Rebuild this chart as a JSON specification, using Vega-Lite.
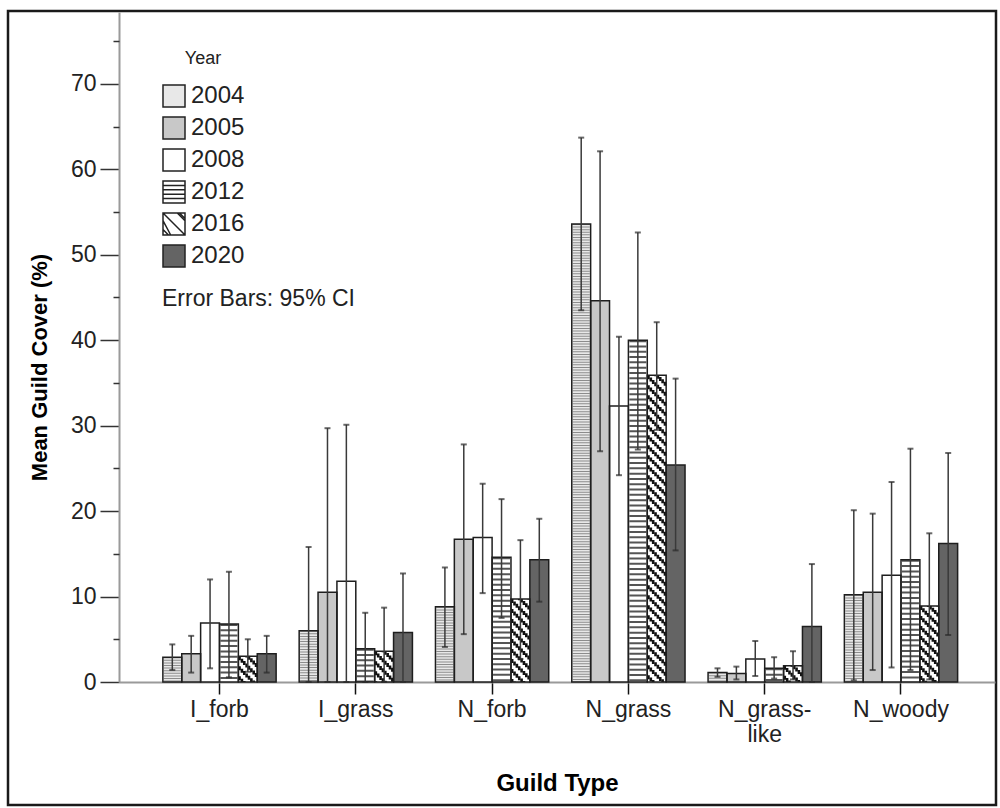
{
  "$schema": "https://vega.github.io/schema/vega-lite/v6.json",
  "width": 988,
  "height": 794,
  "autosize": "none",
  "padding": {"left": 8, "top": 11, "right": 4, "bottom": 3},
  "background": "white",
  "config": {
    "font": "Liberation Sans",
    "view": {"stroke": "#1a1a1a", "strokeWidth": 2.5},
    "axisX": {
      "title": "Guild Type",
      "titleFontSize": 24,
      "titleFontWeight": "bold",
      "titleColor": "#000000",
      "titlePadding": 25,
      "labelFontSize": 23,
      "labelColor": "#222222",
      "labelPadding": 4,
      "labelAngle": 0,
      "labelLineHeight": 25,
      "tickSize": 12,
      "tickColor": "#111111",
      "tickWidth": 1.5,
      "domainColor": "#9a9a9a",
      "domainWidth": 2,
      "grid": false
    }
  },
  "title": {
    "text": "Error Bars: 95% CI",
    "anchor": "start",
    "frame": "group",
    "orient": "top",
    "offset": 0,
    "dx": 154,
    "dy": 311,
    "baseline": "middle",
    "align": "left",
    "fontSize": 23,
    "fontWeight": "normal",
    "color": "#222222"
  },
  "data": {
    "values": [
      {"guild": "I_forb", "year": "2004", "mean": 2.9, "lo": 1.4, "hi": 4.4},
      {"guild": "I_forb", "year": "2005", "mean": 3.3, "lo": 1.1, "hi": 5.4},
      {"guild": "I_forb", "year": "2008", "mean": 6.9, "lo": 1.6, "hi": 12.0},
      {"guild": "I_forb", "year": "2012", "mean": 6.8, "lo": 0.55, "hi": 12.9},
      {"guild": "I_forb", "year": "2016", "mean": 3.0, "lo": 1.2, "hi": 5.0},
      {"guild": "I_forb", "year": "2020", "mean": 3.3, "lo": 1.1, "hi": 5.4},
      {"guild": "I_grass", "year": "2004", "mean": 6.0, "lo": 0.0, "hi": 15.8},
      {"guild": "I_grass", "year": "2005", "mean": 10.5, "lo": 0.0, "hi": 29.7},
      {"guild": "I_grass", "year": "2008", "mean": 11.8, "lo": 0.0, "hi": 30.1},
      {"guild": "I_grass", "year": "2012", "mean": 3.9, "lo": 0.0, "hi": 8.1},
      {"guild": "I_grass", "year": "2016", "mean": 3.6, "lo": 0.0, "hi": 8.7},
      {"guild": "I_grass", "year": "2020", "mean": 5.8, "lo": 0.0, "hi": 12.7},
      {"guild": "N_forb", "year": "2004", "mean": 8.8, "lo": 4.1, "hi": 13.4},
      {"guild": "N_forb", "year": "2005", "mean": 16.7, "lo": 5.6, "hi": 27.8},
      {"guild": "N_forb", "year": "2008", "mean": 16.9, "lo": 10.4, "hi": 23.2},
      {"guild": "N_forb", "year": "2012", "mean": 14.6, "lo": 7.5, "hi": 21.4},
      {"guild": "N_forb", "year": "2016", "mean": 9.7, "lo": 2.7, "hi": 16.6},
      {"guild": "N_forb", "year": "2020", "mean": 14.3, "lo": 9.4, "hi": 19.1},
      {"guild": "N_grass", "year": "2004", "mean": 53.6, "lo": 43.5, "hi": 63.7},
      {"guild": "N_grass", "year": "2005", "mean": 44.6, "lo": 27.0, "hi": 62.1},
      {"guild": "N_grass", "year": "2008", "mean": 32.3, "lo": 24.2, "hi": 40.4},
      {"guild": "N_grass", "year": "2012", "mean": 40.0, "lo": 27.2, "hi": 52.6},
      {"guild": "N_grass", "year": "2016", "mean": 35.9, "lo": 29.5, "hi": 42.1},
      {"guild": "N_grass", "year": "2020", "mean": 25.4, "lo": 15.4, "hi": 35.5},
      {"guild": "N_grass-like", "year": "2004", "mean": 1.1, "lo": 0.6, "hi": 1.6},
      {"guild": "N_grass-like", "year": "2005", "mean": 1.0, "lo": 0.3, "hi": 1.8},
      {"guild": "N_grass-like", "year": "2008", "mean": 2.7, "lo": 0.7, "hi": 4.8},
      {"guild": "N_grass-like", "year": "2012", "mean": 1.6, "lo": 0.4, "hi": 2.9},
      {"guild": "N_grass-like", "year": "2016", "mean": 1.9, "lo": 0.3, "hi": 3.6},
      {"guild": "N_grass-like", "year": "2020", "mean": 6.5, "lo": 0.0, "hi": 13.8},
      {"guild": "N_woody", "year": "2004", "mean": 10.2, "lo": 0.2, "hi": 20.1},
      {"guild": "N_woody", "year": "2005", "mean": 10.5, "lo": 1.4, "hi": 19.7},
      {"guild": "N_woody", "year": "2008", "mean": 12.5, "lo": 1.7, "hi": 23.4},
      {"guild": "N_woody", "year": "2012", "mean": 14.3, "lo": 1.4, "hi": 27.3},
      {"guild": "N_woody", "year": "2016", "mean": 8.9, "lo": 0.3, "hi": 17.4},
      {"guild": "N_woody", "year": "2020", "mean": 16.2, "lo": 5.5, "hi": 26.8}
    ]
  },
  "encoding": {
    "x": {
      "field": "guild",
      "type": "nominal",
      "sort": ["I_forb", "I_grass", "N_forb", "N_grass", "N_grass-like", "N_woody"],
      "scale": {
        "type": "band",
        "domain": ["I_forb", "I_grass", "N_forb", "N_grass", "N_grass-like", "N_woody"],
        "range": [111, 987],
        "paddingInner": 0.169,
        "paddingOuter": 0.298,
        "align": 0.54
      },
      "axis": {"title": "Guild Type", "offset": -123, "bandPosition": 0.5, "labelExpr": "datum.label == 'N_grass-like' ? ['N_grass-', 'like'] : datum.label"}
    },
    "y": {
      "field": "mean",
      "type": "quantitative",
      "scale": {"domain": [0, 78.4], "range": [671, 1], "nice": false, "zero": true},
      "axis": null
    }
  },
  "resolve": {"axis": {"y": "independent"}},
  "layer": [
    {
      "mark": {"type": "bar", "strokeWidth": 0},
      "encoding": {
        "xOffset": {"field": "year", "type": "nominal", "scale": {"domain": ["2004", "2005", "2008", "2012", "2016", "2020"], "paddingInner": 0, "paddingOuter": 0}},
        "fill": {
          "field": "year",
          "type": "nominal",
          "scale": {"domain": ["2004", "2005", "2008", "2012", "2016", "2020"], "range": ["#e8e8e8", "#c8c8c8", "#ffffff", "#ffffff", "#ffffff", "#646464"]},
          "legend": {
            "title": "Year",
            "orient": "none",
            "legendX": 154,
            "legendY": 39,
            "titleFontSize": 18,
            "titleFontWeight": "normal",
            "titleColor": "#222222",
            "titleAnchor": "middle",
            "titlePadding": 16,
            "labelFontSize": 24,
            "labelColor": "#222222",
            "labelOffset": 5,
            "symbolSize": 484,
            "rowPadding": 4,
            "symbolStrokeWidth": 1.5,
            "symbolStrokeColor": "#222222",
            "symbolOpacity": 1,
            "padding": 0,
            "encode": {"symbols": {"update": {"opacity": {"value": 1}, "stroke": {"value": "#222222"}, "strokeWidth": {"value": 1.5}}}}
          }
        },
        "y": {
          "field": "mean",
          "type": "quantitative",
          "scale": {"domain": [0, 78.4], "range": [671, 1], "nice": false, "zero": true},
          "axis": {
            "orient": "left",
            "title": "Mean Guild Cover (%)",
            "titleFontSize": 22,
            "titleFontWeight": "bold",
            "titleColor": "#000000",
            "titlePadding": 19,
            "titleY": 356,
            "values": [0, 10, 20, 30, 40, 50, 60, 70],
            "labelFontSize": 23,
            "labelColor": "#222222",
            "labelPadding": 4,
            "tickSize": 19,
            "tickColor": "#333333",
            "tickWidth": 1.5,
            "domainColor": "#9a9a9a",
            "domainWidth": 2,
            "offset": -111,
            "grid": false
          }
        }
      }
    },
    {
      "transform": [{"filter": "datum.year === '2004'"}],
      "mark": {"type": "rule", "color": "#8c8c8c", "strokeWidth": 17, "strokeDash": [1, 1.6]},
      "encoding": {"xOffset": {"field": "year", "type": "nominal"}, "y2": {"datum": 0}}
    },
    {
      "transform": [{"filter": "datum.year === '2012'"}],
      "mark": {"type": "rule", "color": "#555555", "strokeWidth": 17, "strokeDash": [2, 3.3]},
      "encoding": {"xOffset": {"field": "year", "type": "nominal"}, "y2": {"datum": 0}}
    },
    {
      "transform": [{"filter": "datum.year === '2016'"}],
      "mark": {"type": "rule", "color": "#111111", "strokeWidth": 2.6, "strokeDash": [4, 6]},
      "encoding": {"x": {"field": "guild", "type": "nominal", "sort": ["I_forb", "I_grass", "N_forb", "N_grass", "N_grass-like", "N_woody"], "bandPosition": 0.6771, "axis": {"title": "Guild Type", "offset": -123, "bandPosition": 0.5, "labelExpr": "datum.label == 'N_grass-like' ? ['N_grass-', 'like'] : datum.label"}}, "y2": {"datum": 0}}
    },
    {
      "transform": [{"filter": "datum.year === '2016'"}],
      "mark": {"type": "rule", "color": "#111111", "strokeWidth": 2.6, "strokeDash": [0, 2.36, 4, 3.64]},
      "encoding": {"x": {"field": "guild", "type": "nominal", "sort": ["I_forb", "I_grass", "N_forb", "N_grass", "N_grass-like", "N_woody"], "bandPosition": 0.6979, "axis": {"title": "Guild Type", "offset": -123, "bandPosition": 0.5, "labelExpr": "datum.label == 'N_grass-like' ? ['N_grass-', 'like'] : datum.label"}}, "y2": {"datum": 0}}
    },
    {
      "transform": [{"filter": "datum.year === '2016'"}],
      "mark": {"type": "rule", "color": "#111111", "strokeWidth": 2.6, "strokeDash": [0, 4.72, 4, 1.28]},
      "encoding": {"x": {"field": "guild", "type": "nominal", "sort": ["I_forb", "I_grass", "N_forb", "N_grass", "N_grass-like", "N_woody"], "bandPosition": 0.7188, "axis": {"title": "Guild Type", "offset": -123, "bandPosition": 0.5, "labelExpr": "datum.label == 'N_grass-like' ? ['N_grass-', 'like'] : datum.label"}}, "y2": {"datum": 0}}
    },
    {
      "transform": [{"filter": "datum.year === '2016'"}],
      "mark": {"type": "rule", "color": "#111111", "strokeWidth": 2.6, "strokeDash": [1.08, 6, 2.92, 0]},
      "encoding": {"x": {"field": "guild", "type": "nominal", "sort": ["I_forb", "I_grass", "N_forb", "N_grass", "N_grass-like", "N_woody"], "bandPosition": 0.7396, "axis": {"title": "Guild Type", "offset": -123, "bandPosition": 0.5, "labelExpr": "datum.label == 'N_grass-like' ? ['N_grass-', 'like'] : datum.label"}}, "y2": {"datum": 0}}
    },
    {
      "transform": [{"filter": "datum.year === '2016'"}],
      "mark": {"type": "rule", "color": "#111111", "strokeWidth": 2.6, "strokeDash": [3.44, 6, 0.56, 0]},
      "encoding": {"x": {"field": "guild", "type": "nominal", "sort": ["I_forb", "I_grass", "N_forb", "N_grass", "N_grass-like", "N_woody"], "bandPosition": 0.7604, "axis": {"title": "Guild Type", "offset": -123, "bandPosition": 0.5, "labelExpr": "datum.label == 'N_grass-like' ? ['N_grass-', 'like'] : datum.label"}}, "y2": {"datum": 0}}
    },
    {
      "transform": [{"filter": "datum.year === '2016'"}],
      "mark": {"type": "rule", "color": "#111111", "strokeWidth": 2.6, "strokeDash": [0, 1.8, 4, 4.2]},
      "encoding": {"x": {"field": "guild", "type": "nominal", "sort": ["I_forb", "I_grass", "N_forb", "N_grass", "N_grass-like", "N_woody"], "bandPosition": 0.7813, "axis": {"title": "Guild Type", "offset": -123, "bandPosition": 0.5, "labelExpr": "datum.label == 'N_grass-like' ? ['N_grass-', 'like'] : datum.label"}}, "y2": {"datum": 0}}
    },
    {
      "transform": [{"filter": "datum.year === '2016'"}],
      "mark": {"type": "rule", "color": "#111111", "strokeWidth": 2.6, "strokeDash": [0, 4.16, 4, 1.84]},
      "encoding": {"x": {"field": "guild", "type": "nominal", "sort": ["I_forb", "I_grass", "N_forb", "N_grass", "N_grass-like", "N_woody"], "bandPosition": 0.8021, "axis": {"title": "Guild Type", "offset": -123, "bandPosition": 0.5, "labelExpr": "datum.label == 'N_grass-like' ? ['N_grass-', 'like'] : datum.label"}}, "y2": {"datum": 0}}
    },
    {
      "transform": [{"filter": "datum.year === '2016'"}],
      "mark": {"type": "rule", "color": "#111111", "strokeWidth": 2.6, "strokeDash": [0.52, 6, 3.48, 0]},
      "encoding": {"x": {"field": "guild", "type": "nominal", "sort": ["I_forb", "I_grass", "N_forb", "N_grass", "N_grass-like", "N_woody"], "bandPosition": 0.8229, "axis": {"title": "Guild Type", "offset": -123, "bandPosition": 0.5, "labelExpr": "datum.label == 'N_grass-like' ? ['N_grass-', 'like'] : datum.label"}}, "y2": {"datum": 0}}
    },
    {
      "mark": {"type": "bar", "fillOpacity": 0, "stroke": "#1e1e1e", "strokeWidth": 1.5},
      "encoding": {"xOffset": {"field": "year", "type": "nominal"}}
    },
    {
      "mark": {"type": "rule", "color": "#3a3a3a", "strokeWidth": 1.5},
      "encoding": {
        "xOffset": {"field": "year", "type": "nominal"},
        "y": {
          "field": "lo",
          "type": "quantitative",
          "axis": {
            "orient": "left",
            "title": null,
            "values": [5, 15, 25, 35, 45, 55, 65, 75],
            "labels": false,
            "domain": false,
            "tickSize": 6,
            "tickColor": "#333333",
            "tickWidth": 1.5,
            "offset": -111,
            "grid": false
          }
        },
        "y2": {"field": "hi"}
      }
    },
    {
      "mark": {"type": "tick", "color": "#2a2a2a", "size": 6, "thickness": 2},
      "encoding": {"xOffset": {"field": "year", "type": "nominal"}, "y": {"field": "hi", "type": "quantitative", "axis": null}}
    },
    {
      "mark": {"type": "tick", "color": "#2a2a2a", "size": 6, "thickness": 2},
      "encoding": {"xOffset": {"field": "year", "type": "nominal"}, "y": {"field": "lo", "type": "quantitative", "axis": null}}
    },
    {
      "mark": {"type": "point", "filled": true, "opacity": 0},
      "encoding": {
        "xOffset": {"field": "year", "type": "nominal"},
        "fill": {
          "field": "year",
          "type": "nominal",
          "scale": {"domain": ["2004", "2005", "2008", "2012", "2016", "2020"], "range": ["#e8e8e8", "#c8c8c8", "#ffffff", "#ffffff", "#ffffff", "#646464"]},
          "legend": {
            "title": "Year",
            "orient": "none",
            "legendX": 154,
            "legendY": 39,
            "titleFontSize": 18,
            "titleFontWeight": "normal",
            "titleColor": "#222222",
            "titleAnchor": "middle",
            "titlePadding": 16,
            "labelFontSize": 24,
            "labelColor": "#222222",
            "labelOffset": 5,
            "symbolSize": 484,
            "rowPadding": 4,
            "symbolStrokeWidth": 1.5,
            "symbolStrokeColor": "#222222",
            "symbolOpacity": 1,
            "padding": 0,
            "encode": {"symbols": {"update": {"opacity": {"value": 1}, "stroke": {"value": "#222222"}, "strokeWidth": {"value": 1.5}}}}
          }
        },
        "shape": {
          "field": "year",
          "type": "nominal",
          "scale": {
            "domain": ["2004", "2005", "2008", "2012", "2016", "2020"],
            "range": [
              "M-1,-1H1V1H-1Z",
              "M-1,-1H1V1H-1Z",
              "M-1,-1H1V1H-1Z",
              "M-1,-1H1V1H-1Z M-1,-0.6H1 M-1,-0.2H1 M-1,0.2H1 M-1,0.6H1",
              "M-1,-1H1V1H-1Z M-1,-0.3L-0.3,1 M-1,-1L1,1 M0.3,-1L1,-0.3 M-1,0.5L-0.5,1 M0.5,-1L1,-0.5",
              "M-1,-1H1V1H-1Z"
            ]
          },
          "legend": {
            "title": "Year",
            "orient": "none",
            "legendX": 154,
            "legendY": 39,
            "titleFontSize": 18,
            "titleFontWeight": "normal",
            "titleColor": "#222222",
            "titleAnchor": "middle",
            "titlePadding": 16,
            "labelFontSize": 24,
            "labelColor": "#222222",
            "labelOffset": 5,
            "symbolSize": 484,
            "rowPadding": 4,
            "symbolStrokeWidth": 1.5,
            "symbolStrokeColor": "#222222",
            "symbolOpacity": 1,
            "padding": 0,
            "encode": {"symbols": {"update": {"opacity": {"value": 1}, "stroke": {"value": "#222222"}, "strokeWidth": {"value": 1.5}}}}
          }
        }
      }
    }
  ]
}
